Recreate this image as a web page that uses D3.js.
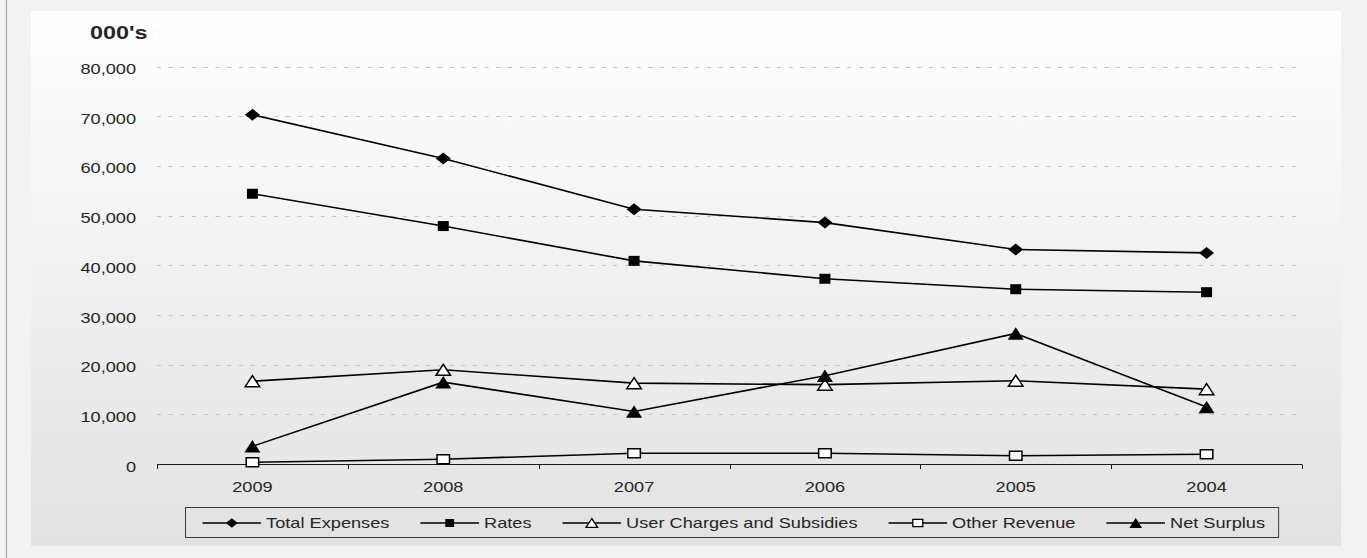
<!DOCTYPE html>
<html>
<head>
<meta charset="utf-8">
<script src="https://cdn.jsdelivr.net/npm/d3@7"></script>
<style>
  html, body { margin: 0; padding: 0; background: #f2f2f2; }
  svg { display: block; }
  text { font-family: "Liberation Sans", Arial, sans-serif; fill: #262626; }
</style>
</head>
<body>
<svg id="chart" width="1367" height="558"></svg>
<script>
// Categories and series (thousands)
const categories = ["2009", "2008", "2007", "2006", "2005", "2004"];
const totalExpenses = [70300, 61500, 51300, 48600, 43200, 42500];
const rates = [54400, 47900, 40900, 37300, 35200, 34600];
const userCharges = [16700, 19000, 16300, 16000, 16800, 15100];
const otherRevenue = [400, 1000, 2200, 2200, 1700, 2000];
const netSurplus = [3600, 16500, 10600, 17800, 26300, 11500];
const yTicks = [0, 10000, 20000, 30000, 40000, 50000, 60000, 70000, 80000];
const unitLabel = "000's";

const seriesNames = ["Total Expenses", "Rates", "User Charges and Subsidies", "Other Revenue", "Net Surplus"];
const seriesValues = [totalExpenses, rates, userCharges, otherRevenue, netSurplus];

// Marker styling per series
const markerStyles = [
  { shape: "diamond", w: 15, h: 12, fill: "#000", stroke: "none" },
  { shape: "square", w: 11, h: 10, fill: "#000", stroke: "none" },
  { shape: "triangle", w: 14.5, h: 11, fill: "#fff", stroke: "#000" },
  { shape: "square", w: 12.5, h: 9, fill: "#fff", stroke: "#000" },
  { shape: "triangle", w: 16, h: 12.5, fill: "#000", stroke: "none" }
];

const SX = 1.3; // horizontal text stretch
const svg = d3.select("#chart");

// Background, panel and frame
const defs = svg.append("defs");
const grad = defs.append("linearGradient").attr("id", "panelGrad")
  .attr("x1", 0).attr("y1", 0).attr("x2", 0).attr("y2", 1);
grad.append("stop").attr("offset", 0).attr("stop-color", "#ffffff");
grad.append("stop").attr("offset", 1).attr("stop-color", "#e2e2e2");

svg.append("rect").attr("width", 1367).attr("height", 558).attr("fill", "#f2f2f2");
svg.append("rect").attr("x", 31).attr("y", 11).attr("width", 1310).attr("height", 535)
  .attr("fill", "url(#panelGrad)");
svg.append("line").attr("x1", 6.5).attr("x2", 6.5).attr("y1", 0).attr("y2", 558)
  .attr("stroke", "#a6a6a6").attr("stroke-width", 1.2);

// Scales
const plot = { left: 157, right: 1302, top: 66.5, bottom: 464.2 };
const x = d3.scaleBand().domain(categories).range([plot.left, plot.right]).paddingInner(0).paddingOuter(0);
const y = d3.scaleLinear().domain([0, 80000]).range([plot.bottom, plot.top]);
const cx = c => x(c) + x.bandwidth() / 2;

// Dashed gridlines
svg.append("g").selectAll("line")
  .data(yTicks.filter(v => v > 0))
  .join("line")
  .attr("x1", plot.left).attr("x2", plot.right)
  .attr("y1", d => Math.round(y(d)) + 0.5).attr("y2", d => Math.round(y(d)) + 0.5)
  .attr("stroke", "#c4c4c4").attr("stroke-width", 1)
  .attr("stroke-dasharray", "4,7.7");

// Y axis labels
const yAxis = svg.append("g").attr("transform", `translate(${plot.left},0)`)
  .call(d3.axisLeft(y).tickValues(yTicks).tickFormat(d3.format(",")).tickSize(0));
yAxis.select(".domain").remove();
yAxis.selectAll("text")
  .attr("x", -21 / SX).attr("y", 7).attr("dy", null)
  .attr("transform", `scale(${SX},1)`)
  .style("font-size", "14px").attr("fill", "#262626");

// X axis labels
const xAxis = svg.append("g").attr("transform", `translate(0,${plot.bottom})`)
  .call(d3.axisBottom(x).tickSize(0));
xAxis.select(".domain").remove();
xAxis.selectAll("text")
  .attr("y", 28).attr("dy", null)
  .attr("transform", `scale(${SX},1)`)
  .style("font-size", "14px").attr("fill", "#262626");

// Axis line with category boundary ticks
const axisY = Math.round(plot.bottom) + 0.5;
svg.append("line").attr("x1", plot.left).attr("x2", plot.right)
  .attr("y1", axisY).attr("y2", axisY).attr("stroke", "#1a1a1a").attr("stroke-width", 1);
const bounds = categories.map(c => x(c)).concat([plot.right]);
svg.append("g").selectAll("line").data(bounds).join("line")
  .attr("x1", d => Math.round(d) + 0.5).attr("x2", d => Math.round(d) + 0.5)
  .attr("y1", axisY).attr("y2", axisY + 4.5)
  .attr("stroke", "#1a1a1a").attr("stroke-width", 1);

// Unit title
svg.append("text").attr("transform", `translate(90,39.3) scale(${SX},1)`)
  .style("font-size", "18px").style("font-weight", "bold").attr("fill", "#000")
  .text(unitLabel);

// Marker path generator
function markerPath(st, k) {
  const w = st.w * k, h = st.h * k;
  if (st.shape === "diamond") return `M0,${-h / 2}L${w / 2},0L0,${h / 2}L${-w / 2},0Z`;
  if (st.shape === "square") return `M${-w / 2},${-h / 2}h${w}v${h}h${-w}Z`;
  return `M0,${-h / 2}L${w / 2},${h / 2}L${-w / 2},${h / 2}Z`;
}

// Lines and markers
const line = d3.line().x(d => cx(d.cat)).y(d => y(d.v));
seriesValues.forEach((vals, i) => {
  const pts = vals.map((v, j) => ({ cat: categories[j], v }));
  const g = svg.append("g");
  g.append("path").datum(pts).attr("d", line)
    .attr("fill", "none").attr("stroke", "#000").attr("stroke-width", 1.6);
  const st = markerStyles[i];
  g.selectAll("path.m").data(pts).join("path").attr("class", "m")
    .attr("transform", d => `translate(${cx(d.cat)},${y(d.v)})`)
    .attr("d", markerPath(st, 1))
    .attr("fill", st.fill).attr("stroke", st.stroke).attr("stroke-width", 1.5);
});

// Legend
const legend = svg.append("g");
const legBox = { left: 185.5, top: 507.5, bottom: 537.5 };
const legY = 523;
let cursor = legBox.left + 17;
const items = legend.append("g");
seriesNames.forEach((name, i) => {
  const st = markerStyles[i];
  items.append("line").attr("x1", cursor).attr("x2", cursor + 58.6)
    .attr("y1", legY).attr("y2", legY).attr("stroke", "#000").attr("stroke-width", 1.5);
  items.append("path").attr("transform", `translate(${cursor + 29.3},${legY})`)
    .attr("d", markerPath(st, 0.8))
    .attr("fill", st.fill).attr("stroke", st.stroke).attr("stroke-width", 1.3);
  const tx = cursor + 58.6 + 5;
  const t = items.append("text").attr("transform", `translate(${tx},${legY + 4.5}) scale(${SX},1)`)
    .style("font-size", "14px").attr("fill", "#1a1a1a").text(name);
  const tw = t.node().getComputedTextLength() * SX;
  cursor = tx + tw + 31;
});
const legRight = cursor - 31 + 13.6;
legend.insert("rect", ":first-child")
  .attr("x", legBox.left).attr("y", legBox.top)
  .attr("width", legRight - legBox.left).attr("height", legBox.bottom - legBox.top)
  .attr("fill", "none").attr("stroke", "#3a3a3a").attr("stroke-width", 1);
</script>
</body>
</html>
